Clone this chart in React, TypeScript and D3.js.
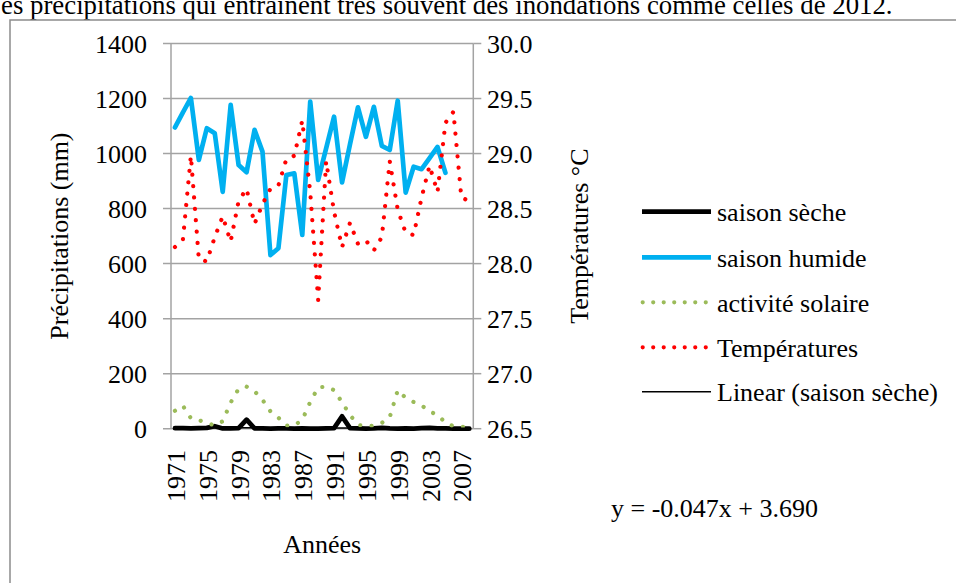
import React from "react";
import * as d3 from "d3";

const years = [1971, 1972, 1973, 1974, 1975, 1976, 1977, 1978, 1979, 1980, 1981, 1982, 1983, 1984, 1985, 1986, 1987, 1988, 1989, 1990, 1991, 1992, 1993, 1994, 1995, 1996, 1997, 1998, 1999, 2000, 2001, 2002, 2003, 2004, 2005, 2006, 2007, 2008];
const yearLabels = [1971, 1975, 1979, 1983, 1987, 1991, 1995, 1999, 2003, 2007];

const saisonSeche = [2, 2, 1, 2, 3, 9, 1, 1, 2, 33, 1, 1, 0, 1, 1, 0, 1, 0, 0, 1, 2, 45, 2, 1, 0, 1, 3, 1, 0, 1, 0, 2, 3, 1, 1, 0, 0, 0];
const saisonHumide: (number | null)[] = [1095, 1150, 1202, 977, 1092, 1074, 861, 1177, 958, 932, 1086, 1007, 631, 656, 922, 928, 704, 1189, 904, 1019, 1134, 895, 1034, 1168, 1061, 1170, 1028, 1013, 1192, 858, 952, 943, 983, 1024, 930, null, null, null];
const activiteSolaire = [65, 83, 38, 31, 21, 12, 27, 95, 145, 153, 136, 105, 63, 40, 11, 12, 32, 97, 150, 153, 140, 96, 50, 14, 9, 11, 21, 42, 140, 112, 97, 85, 62, 51, 22, 9, 7, 7];
const temperatures = [28.15, 28.22, 28.98, 28.04, 28.02, 28.24, 28.43, 28.2, 28.57, 28.68, 28.36, 28.54, 28.68, 28.71, 28.95, 28.98, 29.3, 28.65, 27.67, 28.93, 28.47, 28.15, 28.37, 28.18, 28.21, 28.12, 28.24, 28.93, 28.49, 28.28, 28.26, 28.6, 28.89, 28.65, 29.28, 29.38, 28.6, 28.57];

const leftTicks = [0, 200, 400, 600, 800, 1000, 1200, 1400];
const rightTicks = [26.5, 27.0, 27.5, 28.0, 28.5, 29.0, 29.5, 30.0];
const trendSlope = -0.047;
const trendIntercept = 3.69;

const FONT = "'Liberation Serif', 'Times New Roman', serif";

export default function App() {
  const L = 171, R = 473.3, T = 43.5, B = 428.7;
  const x = d3.scaleBand<number>().domain(years).range([L, R]).paddingInner(0).paddingOuter(0);
  const cx = (yr: number) => (x(yr) as number) + x.bandwidth() / 2;
  const yL = d3.scaleLinear().domain([0, 1400]).range([B, T]);
  const yR = d3.scaleLinear().domain([26.5, 30]).range([B, T]);

  const mkLine = (vals: (number | null)[], sc: d3.ScaleLinear<number, number>) =>
    d3.line<number | null>()
      .defined((d) => d != null)
      .x((_, i) => cx(years[i]))
      .y((d) => sc(d as number))(vals) || "";

  const trendVals = years.map((_, i) => trendSlope * (i + 1) + trendIntercept);

  const grid = "#a3a3a3";
  const dotDash = "0.01 11.4";

  const legend = [
    { name: "saison sèche", color: "#000", w: 4.7, dash: "" },
    { name: "saison humide", color: "#00B0F0", w: 4.7, dash: "" },
    { name: "activité solaire", color: "#9BBB59", w: 4.2, dash: "0.01 10.5" },
    { name: "Températures", color: "#FF0000", w: 4.2, dash: "0.01 10.5" },
    { name: "Linear (saison sèche)", color: "#000", w: 1.5, dash: "" },
  ];
  const legY = [211.7, 257.3, 302.3, 347.3, 391.7];

  return (
    <svg width={956} height={583} style={{ position: "absolute", left: 0, top: 0, background: "#fff" }} fontFamily={FONT}>
      <rect x={0} y={0} width={956} height={583} fill="#fff" />
      <text x={1} y={14} fontSize={26.8} fill="#000">es précipitations qui entraînent très souvent des inondations comme celles de 2012.</text>
      <rect x={10} y={20} width={960} height={600} fill="none" stroke="#8c8c8c" strokeWidth={1.5} />

      {leftTicks.map((t) => (
        <g key={"l" + t}>
          <line x1={L - 8} x2={R} y1={yL(t)} y2={yL(t)} stroke={grid} strokeWidth={1.5} />
          <text x={147} y={yL(t) + 9} fontSize={26} textAnchor="end">{t}</text>
        </g>
      ))}
      {rightTicks.map((t) => (
        <g key={"r" + t}>
          <line x1={R} x2={R + 8} y1={yR(t)} y2={yR(t)} stroke={grid} strokeWidth={1.5} />
          <text x={487} y={yR(t) + 9} fontSize={26} textAnchor="start">{t.toFixed(1)}</text>
        </g>
      ))}
      <line x1={L} x2={L} y1={T} y2={B} stroke={grid} strokeWidth={1.5} />
      <line x1={R} x2={R} y1={T} y2={B} stroke={grid} strokeWidth={1.5} />

      {yearLabels.map((yr) => (
        <text key={yr} transform={`translate(${cx(yr) + 10},450) rotate(-90)`} fontSize={26} textAnchor="end">{yr}</text>
      ))}

      <text transform={`translate(67.5,${(T + B) / 2}) rotate(-90)`} fontSize={26} textAnchor="middle">Précipitations (mm)</text>
      <text transform={`translate(588,${(T + B) / 2}) rotate(-90)`} fontSize={26} textAnchor="middle">Températures °C</text>
      <text x={(L + R) / 2} y={553} fontSize={26} textAnchor="middle">Années</text>

      <path d={mkLine(saisonSeche, yL)} fill="none" stroke="#000" strokeWidth={4.7} strokeLinejoin="round" strokeLinecap="round" />
      <path d={mkLine(saisonHumide, yL)} fill="none" stroke="#00B0F0" strokeWidth={4.7} strokeLinejoin="round" strokeLinecap="round" />
      <path d={mkLine(activiteSolaire, yL)} fill="none" stroke="#9BBB59" strokeWidth={4.2} strokeDasharray={dotDash} strokeLinecap="round" strokeLinejoin="round" />
      <path d={mkLine(trendVals, yL)} fill="none" stroke="#000" strokeWidth={1.5} />
      <path d={mkLine(temperatures, yR)} fill="none" stroke="#FF0000" strokeWidth={4.2} strokeDasharray={dotDash} strokeLinecap="round" strokeLinejoin="round" />

      {legend.map((it, i) => (
        <g key={it.name}>
          <line x1={it.dash ? 642.7 : 642} x2={it.dash ? 708 : 711} y1={legY[i]} y2={legY[i]} stroke={it.color} strokeWidth={it.w}
            strokeDasharray={it.dash || undefined} strokeLinecap={it.dash ? "round" : "butt"} />
          <text x={717} y={legY[i] + 9.5} fontSize={26}>{it.name}</text>
        </g>
      ))}

      <text x={611} y={517} fontSize={26}>y = -0.047x + 3.690</text>
    </svg>
  );
}
